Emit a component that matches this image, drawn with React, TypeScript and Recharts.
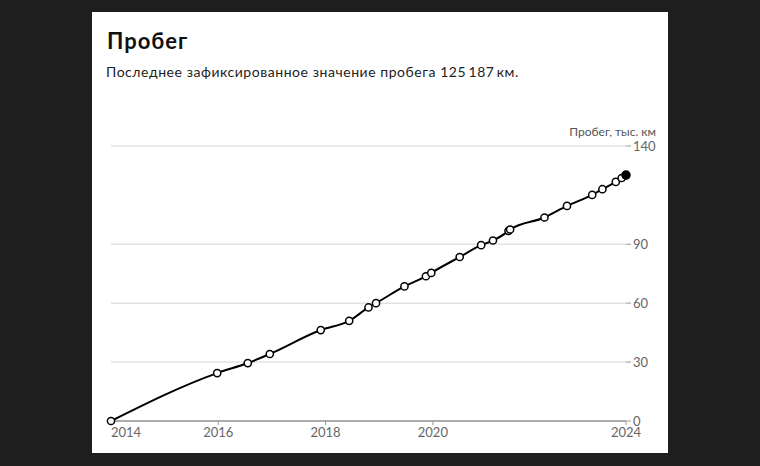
import { LineChart, Line, XAxis, YAxis, CartesianGrid } from "recharts";

// dates as fractional years, mileage in thousand km
const dates = [
  2014.0, 2015.98, 2016.55, 2016.96, 2017.91, 2018.44, 2018.8, 2018.94, 2019.47, 2019.87,
  2019.97, 2020.5, 2020.9, 2021.12, 2021.41, 2021.44, 2022.08, 2022.5, 2022.97, 2023.16,
  2023.41, 2023.52, 2023.6,
];
const mileage = [
  0, 24.4, 29.5, 34.1, 46.3, 51.0, 57.8, 60.0, 68.5, 73.7, 75.4, 83.5, 89.5, 91.9, 96.8,
  97.5, 103.6, 109.5, 115.1, 118.0, 121.7, 123.7, 125.187,
];
const xTicks = [2014, 2016, 2018, 2020, 2023.6];
const xTickLabels = ["2014", "2016", "2018", "2020", "2024"];
const yTicks = [0, 30, 60, 90, 140];

const data = dates.map((d, i) => ({ date: d, km: mileage[i] }));

const FONT = "Lato, 'Noto Sans', sans-serif";
const TICK_COLOR = "#666";

function XTick(props: any) {
  const { x, y, payload, index } = props;
  const first = index === 0;
  return (
    <text
      x={x}
      y={y}
      dy="0.71em"
      textAnchor={first ? "start" : "middle"}
      fill={TICK_COLOR}
      fontSize={13}
      fontFamily={FONT}
    >
      {xTickLabels[xTicks.indexOf(payload.value)]}
    </text>
  );
}

function renderDot(props: any) {
  const { cx, cy, index } = props;
  const last = index === data.length - 1;
  return (
    <circle
      key={index}
      cx={cx}
      cy={cy}
      r={last ? 4 : 3.6}
      fill={last ? "#000" : "#fff"}
      stroke="#000"
      strokeWidth={1.5}
    />
  );
}

export default function App() {
  return (
    <div
      style={{
        position: "fixed",
        left: 0,
        top: 0,
        width: 760,
        height: 466,
        background: "#1e1e1e",
        overflow: "hidden",
      }}
    >
      <div
        style={{
          position: "absolute",
          left: 92,
          top: 12,
          width: 576,
          height: 441,
          background: "#fff",
          fontFamily: FONT,
        }}
      >
        <div
          style={{
            position: "absolute",
            left: 15,
            top: 18,
            fontSize: 22,
            lineHeight: "22px",
            fontWeight: 700,
            letterSpacing: 1,
            color: "#111",
          }}
        >
          Пробег
        </div>
        <div
          style={{
            position: "absolute",
            left: 14,
            top: 53,
            fontSize: 14,
            lineHeight: "14px",
            letterSpacing: 0.55,
            color: "#222",
          }}
        >
          Последнее зафиксированное значение пробега 125&#8201;187&#8201;км.
        </div>
        <div
          style={{
            position: "absolute",
            right: 12,
            top: 114,
            fontSize: 12,
            lineHeight: "12px",
            color: "#555",
            textAlign: "right",
          }}
        >
          Пробег, тыс. км
        </div>
        <LineChart
          width={576}
          height={441}
          data={data}
          margin={{ top: 134, right: 0, bottom: 8, left: 19 }}
          style={{ position: "absolute", left: 0, top: 0 }}
        >
          <CartesianGrid vertical={false} stroke="#e2e2e2" strokeWidth={1.5} />
          <XAxis
            dataKey="date"
            type="number"
            domain={[2014, 2023.6]}
            ticks={xTicks}
            height={24}
            axisLine={{ stroke: "#999", strokeWidth: 1.5 }}
            tickLine={{ stroke: "#999" }}
            tickSize={4}
            tickMargin={3}
            tick={<XTick />}
            interval={0}
          />
          <YAxis
            orientation="right"
            type="number"
            domain={[0, 140]}
            ticks={yTicks}
            width={42}
            axisLine={false}
            tickLine={{ stroke: "#999" }}
            tickSize={5}
            tickMargin={2}
            interval={0}
            tick={{ fill: TICK_COLOR, fontSize: 13, fontFamily: FONT }}
          />
          <Line
            type="monotone"
            dataKey="km"
            stroke="#000"
            strokeWidth={2}
            dot={renderDot}
            activeDot={false}
            isAnimationActive={false}
          />
        </LineChart>
      </div>
    </div>
  );
}
